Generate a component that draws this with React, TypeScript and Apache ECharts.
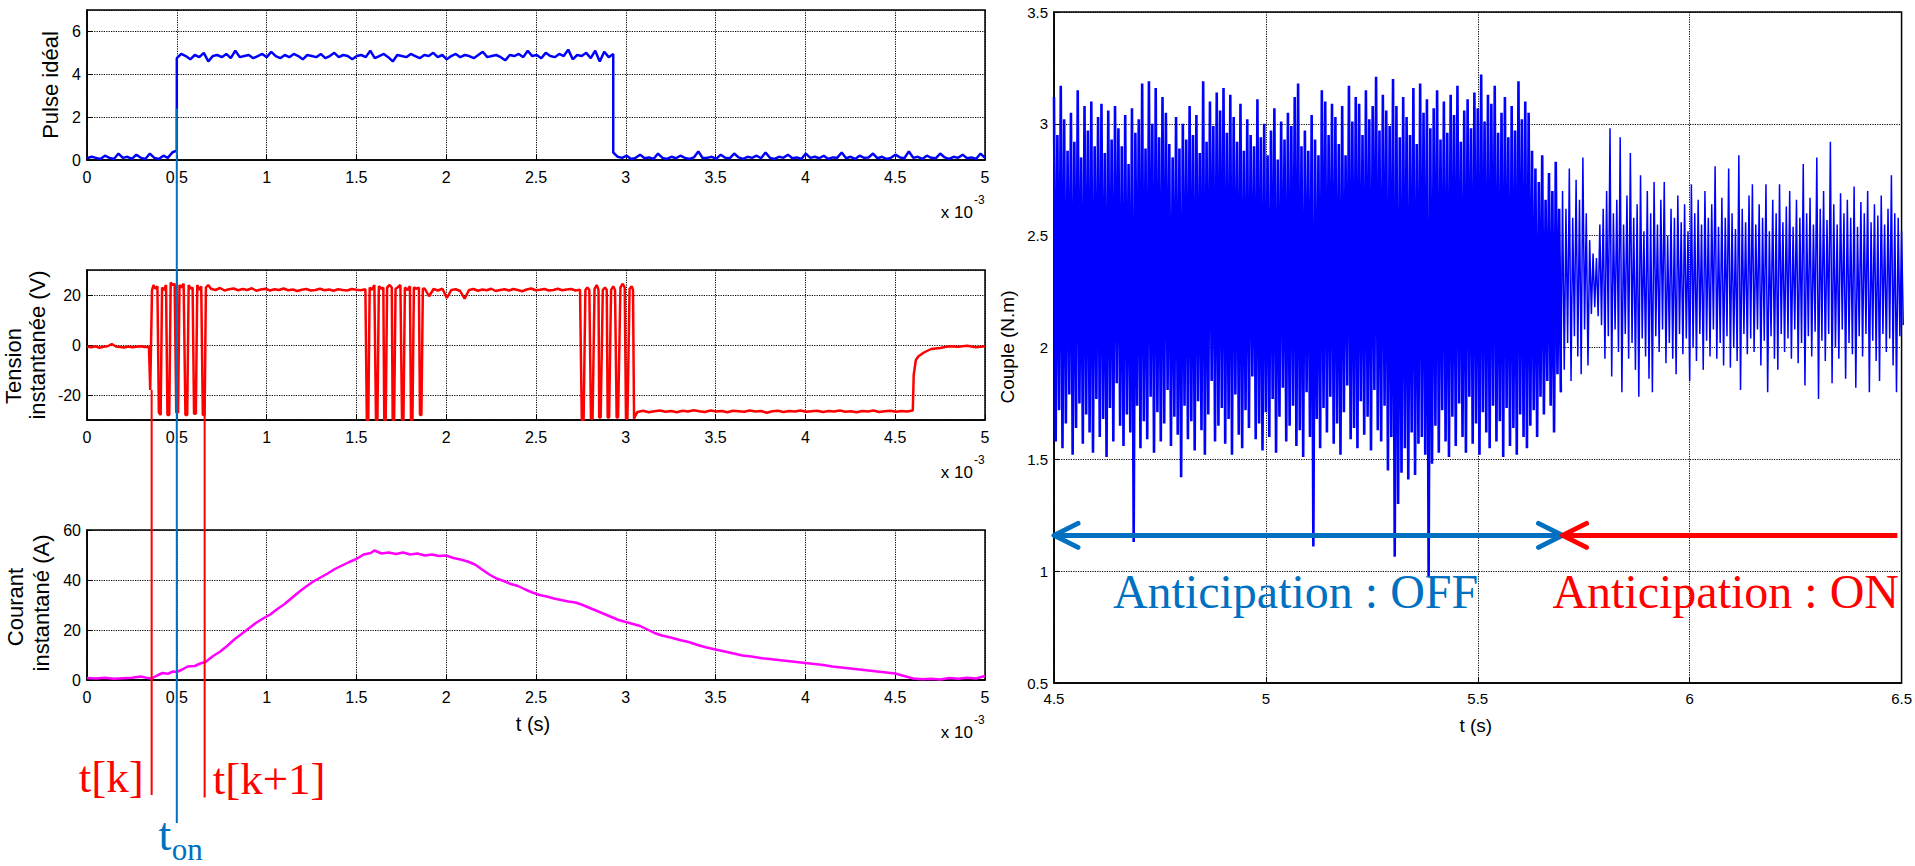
import React, { useEffect, useRef } from "react";
import * as echarts from "echarts";

// ---------------- DATA (left: time in ms, i.e. x 10^-3 s) ----------------
const LEFT_X_MIN = 0;
const LEFT_X_MAX = 5;
const RIGHT_X_MIN = 4.5;
const RIGHT_X_MAX = 6.5;

// Pulse idéal: three constant-level segments with noise
const pulseLow1 = [0.08, 0.15, 0.1, 0.05, 0.2, 0.1, 0.05, 0.3, 0.1, 0.15, 0.05, 0.25, 0.1, 0.05, 0.3, 0.1, 0.05, 0.2, 0.1, 0.35, 0.45];
const pulseHigh = [
  4.75, 4.95, 4.85, 4.7, 4.9, 4.8, 5.0, 4.6, 4.85, 4.9,
  4.8, 4.95, 4.75, 5.1, 4.8, 4.85, 4.9, 4.75, 4.85, 4.95,
  4.8, 5.05, 4.85, 4.75, 4.9, 4.8, 4.95, 4.85, 4.7, 4.9,
  4.85, 4.8, 4.95, 4.75, 4.85, 5.0, 4.8, 4.9, 4.85, 4.7,
  4.85, 4.9, 4.8, 5.1, 4.75, 4.85, 4.95, 4.8, 4.6, 4.9,
  4.85, 4.8, 4.95, 4.85, 4.75, 4.9, 4.85, 5.0, 4.8, 4.9,
  4.7, 4.85, 4.95, 4.8, 4.9, 4.85, 4.75, 4.9, 5.05, 4.8,
  4.85, 4.9, 4.8, 4.65, 4.9, 4.85, 4.95, 4.8, 5.1, 4.85,
  4.9, 4.75, 5.0, 4.85, 4.8, 4.95, 4.85, 5.15, 4.7, 4.9,
  4.85, 5.0, 4.75, 5.1, 4.6, 5.05, 4.8, 4.95,
];
const pulseLow2 = [
  0.35, 0.15, 0.1, 0.2, 0.05, 0.1, 0.25, 0.08, 0.12, 0.05,
  0.3, 0.1, 0.05, 0.15, 0.08, 0.2, 0.1, 0.05, 0.12, 0.4,
  0.08, 0.1, 0.15, 0.05, 0.25, 0.1, 0.08, 0.3, 0.12, 0.05,
  0.15, 0.1, 0.2, 0.08, 0.35, 0.1, 0.05, 0.15, 0.1, 0.25,
  0.08, 0.12, 0.05, 0.3, 0.1, 0.15, 0.08, 0.2, 0.05, 0.12,
  0.1, 0.35, 0.08, 0.15, 0.05, 0.2, 0.1, 0.12, 0.3, 0.08,
  0.15, 0.05, 0.1, 0.25, 0.12, 0.08, 0.4, 0.1, 0.15, 0.05,
  0.2, 0.1, 0.08, 0.3, 0.12, 0.05, 0.15, 0.1, 0.25, 0.08,
  0.12, 0.05, 0.3, 0.1,
];

// Tension instantanée (V)
const tensionIdle = [-0.6, -0.9, -0.5, -1.1, -0.7, -0.5, 0.4, -0.6, -0.8, -1.0, -0.6, -0.9, -0.7, -0.5, -0.8, -0.7];
const tensionBurst1 = [
  [0.352, -18], [0.362, 22], [0.37, 24], [0.38, 22.5], [0.392, 23.5], [0.4, -27], [0.41, -28], [0.418, 23],
  [0.428, 22], [0.44, 24], [0.448, -28], [0.458, -28], [0.466, 25], [0.476, 24], [0.488, 24.5], [0.497, -27],
  [0.507, -27], [0.515, 24], [0.525, 23], [0.538, 24.5], [0.548, -28], [0.558, -28], [0.566, 24], [0.578, 22.5],
  [0.588, 23], [0.596, -27.5], [0.606, -27.5], [0.614, 24], [0.625, 22], [0.636, 23.5], [0.645, -28], [0.655, -28],
  [0.662, 23], [0.675, 24],
];
const tensionHigh1 = [22.5, 22.0, 22.8, 21.8, 22.3, 22.6, 21.9, 22.4, 22.0, 22.7, 21.7, 22.2, 22.5, 21.8, 22.3, 22.0, 22.6, 21.9, 22.2, 21.6, 22.1, 22.4, 21.8, 22.0, 22.5, 21.9, 22.2, 21.7, 22.3, 22.0, 21.8, 22.4, 22.1, 21.9, 22.3];
const tensionBurst2 = [
  [1.558, -30], [1.566, -30], [1.574, 23], [1.585, 22], [1.6, 24], [1.609, -30], [1.617, -30], [1.625, 23.5],
  [1.64, 22.5], [1.65, 23], [1.655, -30], [1.663, -30], [1.671, 23], [1.685, 24], [1.697, 23], [1.702, -30],
  [1.71, -30], [1.718, 22.5], [1.73, 23], [1.745, 24], [1.754, -30], [1.762, -30], [1.77, 23], [1.785, 22],
  [1.798, 23.5], [1.804, -30], [1.812, -30], [1.82, 23], [1.835, 22.5], [1.848, 23], [1.854, -28], [1.862, -28],
  [1.87, 22.5],
];
const tensionHigh2 = [22.6, 19.5, 22.4, 21.8, 22.5, 18.8, 22.0, 22.3, 21.6, 18.5, 22.0, 22.4, 21.7, 22.2, 21.9, 22.5, 21.6, 22.0, 22.3, 21.8, 22.4, 22.0, 21.5, 22.2, 22.6, 21.9, 22.1, 22.4, 21.8, 22.0, 22.5, 21.9, 22.2, 22.4, 21.8, 22.1];
const tensionBurst3 = [
  [2.755, -30], [2.765, -30], [2.775, 22], [2.786, 23], [2.797, 22], [2.806, -29.5], [2.815, -29.5], [2.826, 22.5],
  [2.838, 24], [2.848, 22], [2.852, -29], [2.86, -29], [2.872, 22], [2.884, 23], [2.894, 22], [2.899, -29],
  [2.907, -29], [2.918, 22], [2.93, 23.5], [2.94, 22], [2.949, -29], [2.957, -29], [2.97, 23], [2.983, 24.5],
  [2.994, 23], [3.001, -29.5], [3.009, -29.5], [3.021, 22.5], [3.033, 23.5], [3.04, 22], [3.046, -29.5], [3.055, -28],
];
const tensionLow = [
  -26.8, -26.3, -26.9, -26.5, -26.2, -26.7, -26.4, -26.9, -26.3, -26.6,
  -26.1, -26.5, -26.8, -26.2, -26.6, -26.4, -26.9, -26.3, -26.5, -26.7,
  -26.2, -26.6, -26.4, -27.1, -26.5, -26.3, -26.8, -26.4, -26.6, -26.2,
  -26.7, -26.5, -26.3, -26.8, -26.4, -26.6, -26.2, -26.7, -26.5, -26.9,
  -26.4, -26.6, -26.2, -26.8, -26.5, -26.3, -26.7, -26.4, -26.6, -26.2,
];
const tensionRecover = [
  [4.603, -12], [4.615, -6], [4.63, -4.5], [4.66, -3], [4.7, -1.6], [4.75, -1.2],
  [4.8, -0.5], [4.85, -0.7], [4.9, -0.3], [4.95, -0.9], [5.0, -0.5],
];

// Courant instantané (A)
const courantPts = [
  [0, 0.8], [0.05, 0.6], [0.1, 0.9], [0.15, 0.5], [0.2, 0.7], [0.25, 0.9], [0.3, 1.4], [0.33, 0.9], [0.36, 0.6],
  [0.39, 1.8], [0.42, 2.8], [0.45, 2.5], [0.48, 3.4], [0.5, 3.2], [0.53, 4.2], [0.56, 5.4], [0.6, 5.6], [0.63, 6.6],
  [0.66, 7.2], [0.7, 9.5], [0.74, 11.3], [0.78, 13.6], [0.82, 16.2], [0.86, 18.4], [0.9, 20.6], [0.94, 22.8],
  [0.98, 24.6], [1.02, 26.2], [1.06, 28.4], [1.1, 30.4], [1.14, 32.8], [1.18, 35.2], [1.22, 37.4], [1.26, 39.4],
  [1.3, 41.0], [1.34, 42.6], [1.38, 44.4], [1.42, 45.8], [1.46, 47.2], [1.5, 48.4], [1.54, 50.2], [1.58, 50.8],
  [1.6, 51.8], [1.64, 50.6], [1.68, 51.0], [1.72, 50.4], [1.76, 51.0], [1.8, 50.2], [1.84, 50.6], [1.88, 49.8],
  [1.92, 50.2], [1.96, 49.6], [2.0, 49.8], [2.04, 48.8], [2.08, 48.2], [2.12, 47.4], [2.16, 46.2], [2.2, 44.2],
  [2.24, 42.2], [2.28, 40.6], [2.32, 39.6], [2.36, 38.4], [2.4, 37.6], [2.44, 36.2], [2.48, 35.0], [2.52, 34.0],
  [2.56, 33.4], [2.6, 32.6], [2.64, 32.0], [2.68, 31.4], [2.72, 31.0], [2.76, 30.0], [2.8, 28.8], [2.84, 27.6],
  [2.88, 26.4], [2.92, 25.2], [2.96, 24.0], [3.0, 23.2], [3.04, 22.4], [3.08, 21.6], [3.12, 20.2], [3.16, 18.8],
  [3.2, 17.8], [3.25, 17.0], [3.3, 16.0], [3.35, 15.2], [3.4, 14.0], [3.45, 13.0], [3.5, 12.2], [3.55, 11.4],
  [3.6, 10.6], [3.65, 9.8], [3.7, 9.4], [3.75, 8.8], [3.8, 8.4], [3.85, 8.0], [3.9, 7.6], [3.95, 7.2], [4.0, 6.8],
  [4.05, 6.4], [4.1, 6.0], [4.15, 5.4], [4.2, 5.0], [4.25, 4.6], [4.3, 4.2], [4.35, 3.8], [4.4, 3.4], [4.45, 3.0],
  [4.5, 2.6], [4.55, 1.6], [4.6, 0.6], [4.65, 0.3], [4.7, 0.5], [4.75, 0.2], [4.8, 0.8], [4.85, 0.5], [4.9, 0.9],
  [4.95, 0.6], [5.0, 1.6],
];

// Couple (N.m): per-column upper / lower extremes (column step 0.008 s)
const COUPLE_DX = 0.008;
const offStart = 4.5;
const offHigh = [
  3.12, 2.95, 3.17, 3.02, 2.88, 3.05, 2.92, 3.15, 2.85, 3.08,
  2.97, 3.10, 2.90, 3.03, 3.09, 2.87, 3.06, 2.93, 3.08, 2.98,
  2.90, 3.04, 2.82, 3.07, 2.96, 3.02, 3.18, 2.89, 3.19, 3.00,
  3.16, 2.94, 3.12, 3.05, 2.91, 2.85, 3.03, 2.89, 3.00, 2.93,
  3.08, 2.95, 3.04, 2.87, 3.19, 2.92, 3.10, 2.99, 3.14, 3.06,
  3.16, 2.96, 3.13, 3.03, 2.92, 3.09, 2.88, 3.02, 2.95, 2.90,
  3.11, 2.94, 3.00, 2.86, 2.97, 3.07, 2.84, 3.01, 2.93, 3.05,
  2.99, 3.12, 3.18, 2.90, 2.97, 2.88, 3.04, 2.93, 2.86, 3.15,
  3.10, 2.95, 3.09, 3.03, 2.91, 3.08, 2.86, 3.17, 3.01, 3.12,
  3.09, 2.95, 3.15, 3.02, 3.08, 3.21, 2.97, 3.13, 3.06, 2.99,
  3.20, 3.08, 2.94, 3.12, 3.03, 2.95, 3.16, 2.91, 3.18, 3.05,
  3.11, 2.98, 3.07, 3.15, 2.93, 3.10, 2.96, 3.13, 3.04, 3.17,
  2.92, 3.06, 3.11, 2.98, 3.14, 3.07, 3.22, 3.01, 3.13, 3.09,
  3.17, 2.96, 3.05, 3.12, 2.94, 3.08, 2.97, 3.19, 3.02, 3.10,
  3.05, 2.88, 2.80, 2.74, 2.86, 2.66, 2.78, 2.70, 2.83, 2.62,
];
const offLow = [
  1.58, 1.72, 1.55, 1.66, 1.79, 1.52, 1.64, 1.75, 1.57, 1.70,
  1.62, 1.53, 1.77, 1.60, 1.68, 1.51, 1.73, 1.58, 1.84, 1.65,
  1.56, 1.70, 1.62, 1.13, 1.74, 1.55, 1.67, 1.59, 1.78, 1.53,
  1.71, 1.58, 1.66, 1.81, 1.56, 1.69, 1.61, 1.42, 1.74, 1.59,
  1.67, 1.54, 1.76, 1.63, 1.52, 1.70, 1.85, 1.58, 1.65, 1.73,
  1.57, 1.68, 1.52, 1.79, 1.61, 1.55, 1.72, 1.64, 1.87, 1.59,
  1.66, 1.54, 1.71, 1.60, 1.77, 1.53, 1.69, 1.82, 1.58, 1.65,
  1.74, 1.56, 1.63, 1.51, 1.80, 1.60, 1.11, 1.68, 1.55, 1.73,
  1.62, 1.78, 1.57, 1.66, 1.52, 1.71, 1.83, 1.59, 1.64, 1.55,
  1.76, 1.61, 1.69, 1.54, 1.81, 1.63, 1.58, 1.74, 1.45, 1.60,
  1.065, 1.30, 1.44, 1.55, 1.41, 1.62, 1.43, 1.57, 1.60, 1.52,
  0.976, 1.48, 1.65, 1.53, 1.72, 1.58, 1.51, 1.69, 1.56, 1.75,
  1.60, 1.53, 1.78, 1.57, 1.66, 1.52, 1.71, 1.62, 1.55, 1.74,
  1.58, 1.67, 1.51, 1.73, 1.56, 1.64, 1.52, 1.70, 1.60, 1.55,
  1.65, 1.72, 1.60, 1.78, 1.70, 1.85, 1.74, 1.62, 1.88, 1.80,
];
const onStart = 5.7;
const onHigh = [
  2.70, 2.62, 2.80, 2.58, 2.75, 2.66, 2.85, 2.60, 2.48, 2.42,
  2.40, 2.55, 2.62, 2.70, 2.98, 2.60, 2.66, 2.94, 2.55, 2.68,
  2.87, 2.58, 2.64, 2.77, 2.52, 2.70, 2.60, 2.74, 2.55, 2.66,
  2.74, 2.50, 2.62, 2.58, 2.68, 2.56, 2.64, 2.52, 2.73, 2.60,
  2.66, 2.55, 2.70, 2.58, 2.64, 2.81, 2.54, 2.67, 2.58, 2.80,
  2.60, 2.53, 2.86, 2.62, 2.56, 2.68, 2.73, 2.55, 2.64, 2.58,
  2.73, 2.52, 2.66, 2.60, 2.73, 2.56, 2.63, 2.70, 2.54, 2.66,
  2.58, 2.82, 2.60, 2.67, 2.55, 2.85, 2.62, 2.70, 2.57, 2.92,
  2.64, 2.55, 2.69, 2.60, 2.66, 2.58, 2.72, 2.54, 2.65, 2.60,
  2.70, 2.56, 2.64, 2.59, 2.68, 2.55, 2.62, 2.77, 2.60, 2.58,
  2.52,
];
const onLow = [
  1.90, 2.02, 1.85, 2.05, 1.96, 1.88, 2.08, 1.92, 2.15, 2.18,
  2.14, 2.10, 1.95, 2.05, 1.87, 2.08, 1.98, 1.80, 2.06, 1.95,
  2.02, 1.90, 1.78, 2.04, 1.96, 1.86, 1.80, 2.05, 1.98, 2.08,
  1.93, 2.02, 1.95, 1.88, 2.06, 1.97, 2.04, 1.85, 2.00, 1.94,
  2.06, 1.90, 2.03, 1.96, 2.08, 1.95, 2.02, 1.92, 2.05, 1.91,
  2.00, 1.94, 1.81, 2.06, 1.97, 2.04, 1.98, 2.08, 1.92, 2.03,
  1.80, 2.05, 1.95, 1.90, 2.06, 1.98, 2.04, 1.95, 2.08, 1.93,
  2.02, 1.83, 2.05, 1.96, 2.07, 1.77, 2.03, 1.94, 2.06, 1.84,
  2.00, 1.95, 2.08, 1.86, 2.02, 1.97, 1.82, 2.05, 1.96, 2.06,
  1.80, 2.03, 1.94, 1.85, 2.06, 1.98, 2.04, 1.92, 1.80, 2.05,
  2.10,
];

// Annotation anchors (data units)
const T_ON = 0.5;
const T_K = 0.36;
const T_K1 = 0.655;
const ARROW_Y = 1.16;
const ARROW_SPLIT = 5.7;
const ARROW_END = 6.49;

// ---------------- builders ----------------
const seg = (t0: number, t1: number, vals: number[]) =>
  vals.map((v, i) => [t0 + ((t1 - t0) * i) / (vals.length - 1), v]);
const interleave = (x0: number, hi: number[], lo: number[]) =>
  hi.flatMap((h, i) => [
    [x0 + i * COUPLE_DX, h],
    [x0 + (i + 0.5) * COUPLE_DX, lo[i]],
  ]);

const pulseData = [...seg(0, 0.5, pulseLow1), ...seg(0.5, 2.93, pulseHigh), ...seg(2.93, 5, pulseLow2)];
const tensionData = [
  ...seg(0, 0.345, tensionIdle),
  ...tensionBurst1,
  ...seg(0.69, 1.55, tensionHigh1),
  ...tensionBurst2,
  ...seg(1.88, 2.745, tensionHigh2),
  ...tensionBurst3,
  ...seg(3.065, 4.598, tensionLow),
  ...tensionRecover,
];
const coupleOff = interleave(offStart, offHigh, offLow);
const coupleOn = [coupleOff[coupleOff.length - 1], ...interleave(onStart, onHigh, onLow)];

const SANS = '"Liberation Sans", Arial, Helvetica, sans-serif';
const SERIF = '"Liberation Serif", "Times New Roman", Times, serif';

const gridBase = { show: true, borderColor: "#000", borderWidth: 1.5, backgroundColor: "#fff", containLabel: false };

const axisCommon = (fontSize: number, margin: number) => ({
  axisLine: { show: true, onZero: false, lineStyle: { color: "#000", width: 1.5 } },
  axisTick: { show: true, inside: true, length: 6, lineStyle: { color: "#000", width: 1 } },
  axisLabel: { color: "#000", fontSize, fontFamily: SANS, margin },
  splitLine: { show: true, lineStyle: { color: "#000", width: 1, type: [1.2, 1.2] } },
});

const leftX = (gridIndex: number) => ({
  type: "value",
  gridIndex,
  min: LEFT_X_MIN,
  max: LEFT_X_MAX,
  interval: 0.5,
  ...axisCommon(16, 9),
});

const option: any = {
  animation: false,
  backgroundColor: "#fff",
  grid: [
    { ...gridBase, left: 87, top: 10, width: 898, height: 150 },
    { ...gridBase, left: 87, top: 270, width: 898, height: 150 },
    { ...gridBase, left: 87, top: 530, width: 898, height: 150 },
    { ...gridBase, left: 1054, top: 12, width: 852, height: 671 },
  ],
  xAxis: [
    leftX(0),
    leftX(1),
    leftX(2),
    { type: "value", gridIndex: 3, min: RIGHT_X_MIN, max: RIGHT_X_MAX, interval: 0.5, ...axisCommon(15, 8) },
  ],
  yAxis: [
    (() => {
      const c = axisCommon(16, 6);
      return { type: "value", gridIndex: 0, min: 0, max: 7, interval: 2, ...c, axisLabel: { ...c.axisLabel, showMaxLabel: false } };
    })(),
    (() => {
      const c = axisCommon(16, 6);
      return { type: "value", gridIndex: 1, min: -30, max: 30, splitNumber: 3, ...c, axisLabel: { ...c.axisLabel, showMaxLabel: false, showMinLabel: false } };
    })(),
    { type: "value", gridIndex: 2, min: 0, max: 60, interval: 20, ...axisCommon(16, 6) },
    { type: "value", gridIndex: 3, min: 0.5, max: 3.5, interval: 0.5, ...axisCommon(15, 6) },
  ],
  series: [
    { type: "line", name: "Pulse idéal", xAxisIndex: 0, yAxisIndex: 0, data: pulseData, showSymbol: false, symbol: "none", lineStyle: { color: "#0000FF", width: 2.5 }, silent: true },
    { type: "line", name: "Tension", xAxisIndex: 1, yAxisIndex: 1, data: tensionData, showSymbol: false, symbol: "none", lineStyle: { color: "#FF0000", width: 2.5 }, silent: true },
    { type: "line", name: "Courant", xAxisIndex: 2, yAxisIndex: 2, data: courantPts, showSymbol: false, symbol: "none", lineStyle: { color: "#FF00FF", width: 2.5 }, silent: true },
    { type: "line", name: "Couple OFF", xAxisIndex: 3, yAxisIndex: 3, data: coupleOff, showSymbol: false, symbol: "none", lineStyle: { color: "#0000FF", width: 2.6 }, silent: true },
    { type: "line", name: "Couple ON", xAxisIndex: 3, yAxisIndex: 3, data: coupleOn, showSymbol: false, symbol: "none", lineStyle: { color: "#0000FF", width: 1.5 }, silent: true },
  ],
};

function txt(x: number, y: number, text: string, font: string, fill: string, align: string, valign: string, extra: any = {}) {
  return {
    type: "text",
    x,
    y,
    z: 100,
    silent: true,
    ...extra,
    style: { text, font, fill, align, verticalAlign: valign, textAlign: align, textVerticalAlign: valign },
  };
}

function buildGraphic(chart: any) {
  const p = (g: number, x: number, y: number) => chart.convertToPixel({ gridIndex: g }, [x, y]) as number[];
  const els: any[] = [];
  const line = (a: number[], b: number[], stroke: string, w: number) =>
    els.push({ type: "line", z: 100, silent: true, shape: { x1: a[0], y1: a[1], x2: b[0], y2: b[1] }, style: { stroke, lineWidth: w } });
  const chevron = (tip: number[], dir: number, stroke: string) =>
    els.push({
      type: "polyline",
      z: 101,
      silent: true,
      shape: { points: [[tip[0] + dir * 24, tip[1] - 12], [tip[0], tip[1]], [tip[0] + dir * 24, tip[1] + 12]] },
      style: { stroke, lineWidth: 5, lineCap: "round", lineJoin: "round", fill: null },
    });

  // vertical markers crossing the left plots
  line(p(0, T_ON, 2.4), p(2, T_ON, -57.2), "#0070C0", 2);
  line(p(1, T_K, -18), p(2, T_K, -46), "#FF0000", 2);
  line(p(1, T_K1, -27), p(2, T_K1, -47), "#FF0000", 2);

  const kx = p(2, T_K, 0)[0];
  const k1x = p(2, T_K1, 0)[0];
  const onx = p(2, T_ON, 0)[0];
  const b2 = p(2, 0, 0)[1];
  els.push(txt(kx - 8, b2 + 97, "t[k]", `45px ${SERIF}`, "#FF0000", "right", "middle"));
  els.push(txt(k1x + 8, b2 + 99, "t[k+1]", `45px ${SERIF}`, "#FF0000", "left", "middle"));
  els.push(txt(onx - 12, b2 + 154, "t", `46px ${SERIF}`, "#0070C0", "center", "middle"));
  els.push(txt(onx - 5, b2 + 169, "on", `31px ${SERIF}`, "#0070C0", "left", "middle"));

  // x 10^-3 multipliers
  for (let g = 0; g < 3; g++) {
    const [rx, by] = p(g, LEFT_X_MAX, g === 1 ? -30 : 0);
    els.push(txt(rx - 12, by + 52, "x 10", `17px ${SANS}`, "#000", "right", "middle"));
    els.push(txt(rx - 11, by + 40, "-3", `12px ${SANS}`, "#000", "left", "middle"));
  }

  // axis titles
  els.push(txt(50, 85, "Pulse idéal", `22px ${SANS}`, "#000", "center", "middle", { rotation: Math.PI / 2 }));
  els.push(txt(13, 366, "Tension", `22px ${SANS}`, "#000", "center", "middle", { rotation: Math.PI / 2 }));
  els.push(txt(37, 345, "instantanée (V)", `22px ${SANS}`, "#000", "center", "middle", { rotation: Math.PI / 2 }));
  els.push(txt(15, 607, "Courant", `22px ${SANS}`, "#000", "center", "middle", { rotation: Math.PI / 2 }));
  els.push(txt(41, 603, "instantané (A)", `22px ${SANS}`, "#000", "center", "middle", { rotation: Math.PI / 2 }));
  els.push(txt(1007, 347, "Couple (N.m)", `19px ${SANS}`, "#000", "center", "middle", { rotation: Math.PI / 2 }));
  const lt = p(2, 2.5, 0);
  els.push(txt(lt[0] - 3, lt[1] + 44, "t (s)", `20px ${SANS}`, "#000", "center", "middle"));
  const rt = p(3, 5.5, 0.5);
  els.push(txt(rt[0] - 2, rt[1] + 42, "t (s)", `19px ${SANS}`, "#000", "center", "middle"));

  // anticipation arrows
  const aL = p(3, RIGHT_X_MIN, ARROW_Y);
  const aM = p(3, ARROW_SPLIT, ARROW_Y);
  const aR = p(3, ARROW_END, ARROW_Y);
  line(aL, aM, "#0070C0", 5);
  chevron(aL, 1, "#0070C0");
  chevron(aM, -1, "#0070C0");
  line(aM, aR, "#FF0000", 5);
  chevron(aM, 1, "#FF0000");

  const off = p(3, 5.07, 0.836);
  const on = p(3, 6.085, 0.836);
  els.push(txt(off[0], off[1] - 16, "Anticipation : OFF", `48px ${SERIF}`, "#0070C0", "center", "middle"));
  els.push(txt(on[0], on[1] - 16, "Anticipation : ON", `48px ${SERIF}`, "#FF0000", "center", "middle"));
  return els;
}

export default function App() {
  const ref = useRef<HTMLDivElement>(null);
  useEffect(() => {
    if (!ref.current) return;
    const chart = echarts.init(ref.current, null, { renderer: "svg" });
    chart.setOption(option);
    chart.setOption({ graphic: buildGraphic(chart) });
    return () => chart.dispose();
  }, []);
  return (
    <div
      ref={ref}
      style={{ position: "fixed", left: 0, top: 0, width: 1915, height: 866, background: "#fff" }}
    />
  );
}
